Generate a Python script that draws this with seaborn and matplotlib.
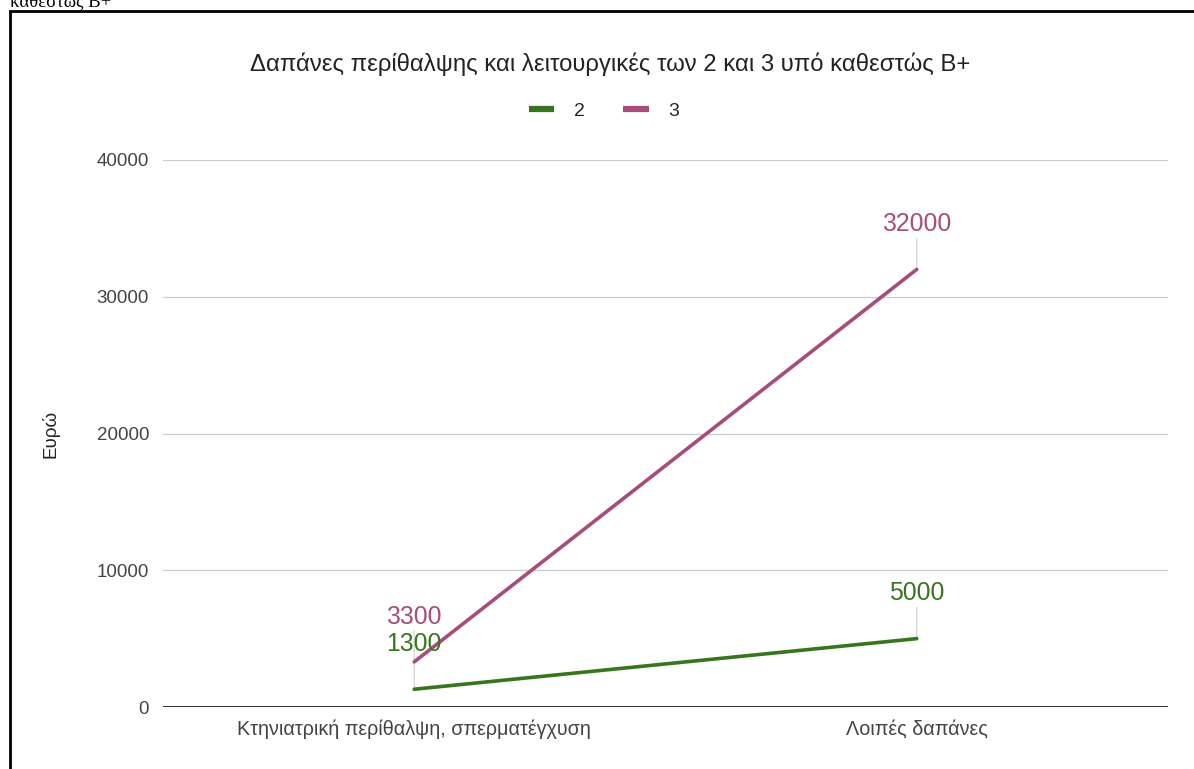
import matplotlib
matplotlib.use("Agg")
import matplotlib.pyplot as plt
import matplotlib.patches as mpatches
from matplotlib.lines import Line2D
import pandas as pd
import seaborn as sns

# δεδομένα
katigories = ["Κτηνιατρική περίθαλψη, σπερματέγχυση", "Λοιπές δαπάνες"]
seira_2 = [1300, 5000]
seira_3 = [3300, 32000]
onomata = ["2", "3"]
y_ticks = [0, 10000, 20000, 30000, 40000]

TITLOS = "Δαπάνες περίθαλψης και λειτουργικές των 2 και 3 υπό καθεστώς Β+"
XRWMATA = {"2": "#38761d", "3": "#a64d79"}

df = pd.DataFrame({
    "katigoria": katigories * 2,
    "seira": [onomata[0]] * 2 + [onomata[1]] * 2,
    "timi": seira_2 + seira_3,
})

sns.set_theme(style="white")
plt.rcParams["font.family"] = ["Liberation Sans", "DejaVu Sans"]

W, H = 1194, 769
fig = plt.figure(figsize=(W / 100, H / 100), dpi=100)
ax = fig.add_axes([163 / W, 1 - 707 / H, (1168 - 163) / W, (707 - 160) / H])

sns.lineplot(data=df, x="katigoria", y="timi", hue="seira", palette=XRWMATA,
             sort=False, linewidth=2.6, ax=ax, legend=False, zorder=3)

ax.set_xlim(-0.5, 1.5)
ax.set_ylim(0, 40000)
ax.set_yticks(y_ticks)
ax.set_yticklabels([str(t) for t in y_ticks], fontsize=13.5, color="#444444")
ax.tick_params(axis="x", labelsize=14.2, labelcolor="#444444", pad=9, length=0)
ax.tick_params(axis="y", pad=10, length=0)
ax.set_xlabel("")
ax.set_ylabel("Ευρώ", fontsize=13.5, color="#222222")
ax.yaxis.set_label_coords(-0.1025, 0.5)

for t in y_ticks[1:]:
    ax.axhline(t, color="#cccccc", lw=0.9, zorder=1)
ax.axhline(0, color="#333333", lw=1.4, zorder=4)
for s in ax.spines.values():
    s.set_visible(False)

# ετικέτες τιμών με γραμμές οδηγούς
for x, (v2, v3) in enumerate(zip(seira_2, seira_3)):
    for v, nm in ((v2, "2"), (v3, "3")):
        ax.annotate("", xy=(x, v), xytext=(0, 22.5), textcoords="offset points",
                    arrowprops=dict(arrowstyle="-", color="#d9d9d9", lw=1.0,
                                    shrinkA=0, shrinkB=0), zorder=2)
for x, (v2, v3) in enumerate(zip(seira_2, seira_3)):
    for v, nm in ((v2, "2"), (v3, "3")):
        ax.annotate(str(v), xy=(x, v), xytext=(0, 32.5), textcoords="offset points",
                    ha="center", va="center", fontsize=17.8, color=XRWMATA[nm], zorder=5)

fig.text(610 / W, 1 - 64 / H, TITLOS, ha="center", va="center",
         fontsize=17.2, color="#222222")

handles = [Line2D([], [], color=XRWMATA[n], lw=4.5, solid_capstyle="butt") for n in onomata]
fig.legend(handles, onomata, loc="center", bbox_to_anchor=(604 / W, 1 - 111 / H),
           ncol=2, frameon=False, fontsize=14, handlelength=1.3,
           columnspacing=2.0, handletextpad=1.0)

# πλαίσιο και κομμένο κείμενο από πάνω
fig.patches.append(mpatches.Rectangle((10 / W, -0.1), 1.2, 1 - 11 / H + 0.1,
                                      transform=fig.transFigure, fill=False,
                                      edgecolor="black", lw=2.0))
fig.text(10 / W, 1 - 6.5 / H, "καθεστώς Β+", ha="left", va="baseline",
         fontsize=13.5, family="Liberation Serif", color="black")

fig.savefig("out.png", dpi=100)
